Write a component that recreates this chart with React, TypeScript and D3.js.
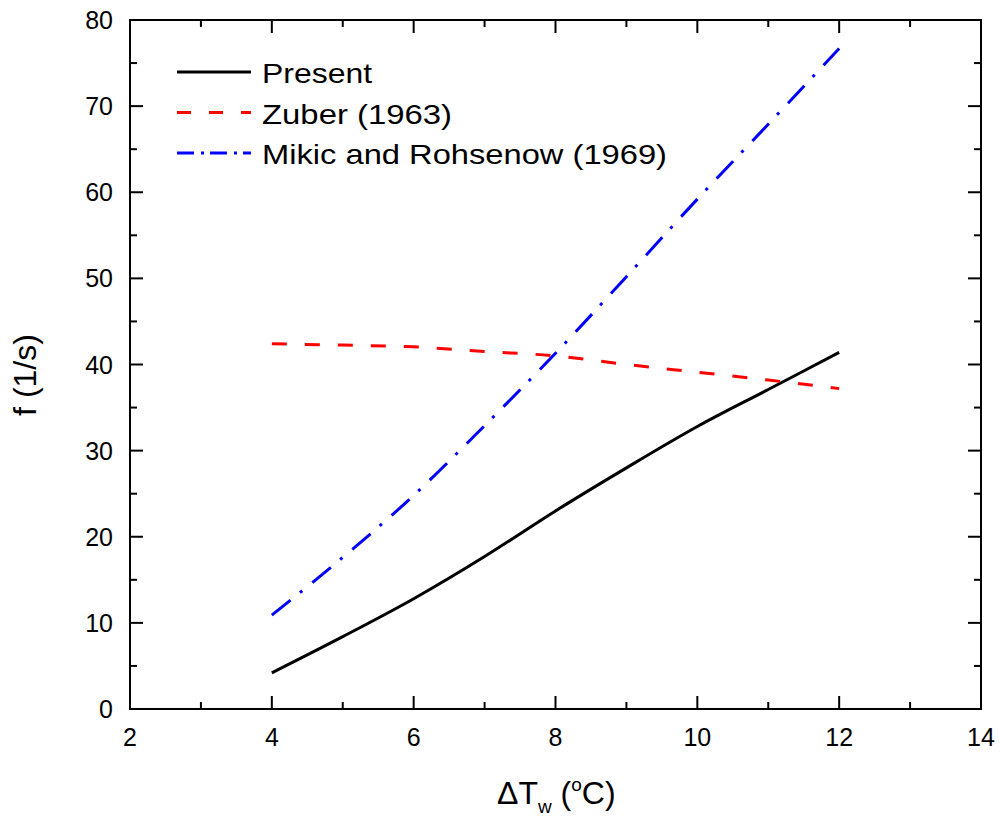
import React from "react";
import * as d3 from "d3";

const xValues = [4, 5, 6, 7, 8, 9, 10, 11, 12];
const presentValues = [4.2, 8.4, 12.8, 17.7, 23.0, 28.0, 32.8, 37.1, 41.4];
const zuberValues = [42.4, 42.25, 42.05, 41.5, 41.0, 40.0, 39.1, 38.2, 37.2];
const mikicValues = [10.9, 17.6, 24.8, 32.9, 41.3, 50.2, 59.2, 67.9, 76.7];

const xMajorTicks = [2, 4, 6, 8, 10, 12, 14];
const xMinorTicks = [3, 5, 7, 9, 11, 13];
const yMajorTicks = [0, 10, 20, 30, 40, 50, 60, 70, 80];
const yMinorTicks = [5, 15, 25, 35, 45, 55, 65, 75];

const seriesNames = ["Present", "Zuber (1963)", "Mikic and Rohsenow (1969)"];
const seriesColors = ["#000000", "#ff0000", "#0000ff"];
const seriesDash = ["none", "15 18", "24 12 3 13"];
const legendDash = ["none", "14 18", "17 7 3 6"];
const legendLengths = [110, 190, 405];

export default function App() {
  const W = 1000, H = 823;
  const left = 130, right = 981, top = 20, bottom = 709;
  const x = d3.scaleLinear().domain([2, 14]).range([left, right]);
  const y = d3.scaleLinear().domain([0, 80]).range([bottom, top]);
  const line = d3.line<number>().x((_, i) => x(xValues[i])).y((d) => y(d)).curve(d3.curveMonotoneX);
  const series = [presentValues, zuberValues, mikicValues];
  const font = "Arial, 'Liberation Sans', sans-serif";
  const major = 13, minor = 7;

  return (
    <svg width={W} height={H} style={{ position: "absolute", left: 0, top: 0 }}>
      <rect width={W} height={H} fill="#fff" />
      {series.map((s, i) => (
        <path key={i} d={line(s) || ""} fill="none" stroke={seriesColors[i]} strokeWidth={3}
          strokeDasharray={seriesDash[i]} strokeLinecap="butt" />
      ))}
      <rect x={left} y={top} width={right - left} height={bottom - top} fill="none" stroke="#000" strokeWidth={2} />
      {xMajorTicks.map((t) => (
        <g key={"xm" + t}>
          <line x1={x(t)} x2={x(t)} y1={bottom} y2={bottom - major} stroke="#000" strokeWidth={2} />
          <line x1={x(t)} x2={x(t)} y1={top} y2={top + major} stroke="#000" strokeWidth={2} />
          <text x={x(t)} y={746} textAnchor="middle" fontFamily={font} fontSize={25}>{t}</text>
        </g>
      ))}
      {xMinorTicks.map((t) => (
        <g key={"xn" + t}>
          <line x1={x(t)} x2={x(t)} y1={bottom} y2={bottom - minor} stroke="#000" strokeWidth={2} />
          <line x1={x(t)} x2={x(t)} y1={top} y2={top + minor} stroke="#000" strokeWidth={2} />
        </g>
      ))}
      {yMajorTicks.map((t) => (
        <g key={"ym" + t}>
          <line x1={left} x2={left + major} y1={y(t)} y2={y(t)} stroke="#000" strokeWidth={2} />
          <line x1={right} x2={right - major} y1={y(t)} y2={y(t)} stroke="#000" strokeWidth={2} />
          <text x={113} y={y(t) + 9} textAnchor="end" fontFamily={font} fontSize={25}>{t}</text>
        </g>
      ))}
      {yMinorTicks.map((t) => (
        <g key={"yn" + t}>
          <line x1={left} x2={left + minor} y1={y(t)} y2={y(t)} stroke="#000" strokeWidth={2} />
          <line x1={right} x2={right - minor} y1={y(t)} y2={y(t)} stroke="#000" strokeWidth={2} />
        </g>
      ))}
      {seriesNames.map((n, i) => (
        <g key={"lg" + i}>
          <line x1={177} x2={251} y1={72 + i * 40.5} y2={72 + i * 40.5} stroke={seriesColors[i]} strokeWidth={3}
            strokeDasharray={legendDash[i]} />
          <text x={262} y={83 + i * 40.5} fontFamily={font} fontSize={28}
            textLength={legendLengths[i]} lengthAdjust="spacingAndGlyphs">{n}</text>
        </g>
      ))}
      <text x={497} y={804} fontFamily={font} fontSize={32}>
        ΔT<tspan dy={9} fontSize={19}>w</tspan><tspan dy={-9}> (</tspan><tspan dy={-13} fontSize={19}>o</tspan><tspan dy={13}>C)</tspan>
      </text>
      <text transform={`translate(36,375) rotate(-90)`} textAnchor="middle" fontFamily={font} fontSize={32}>f (1/s)</text>
    </svg>
  );
}
